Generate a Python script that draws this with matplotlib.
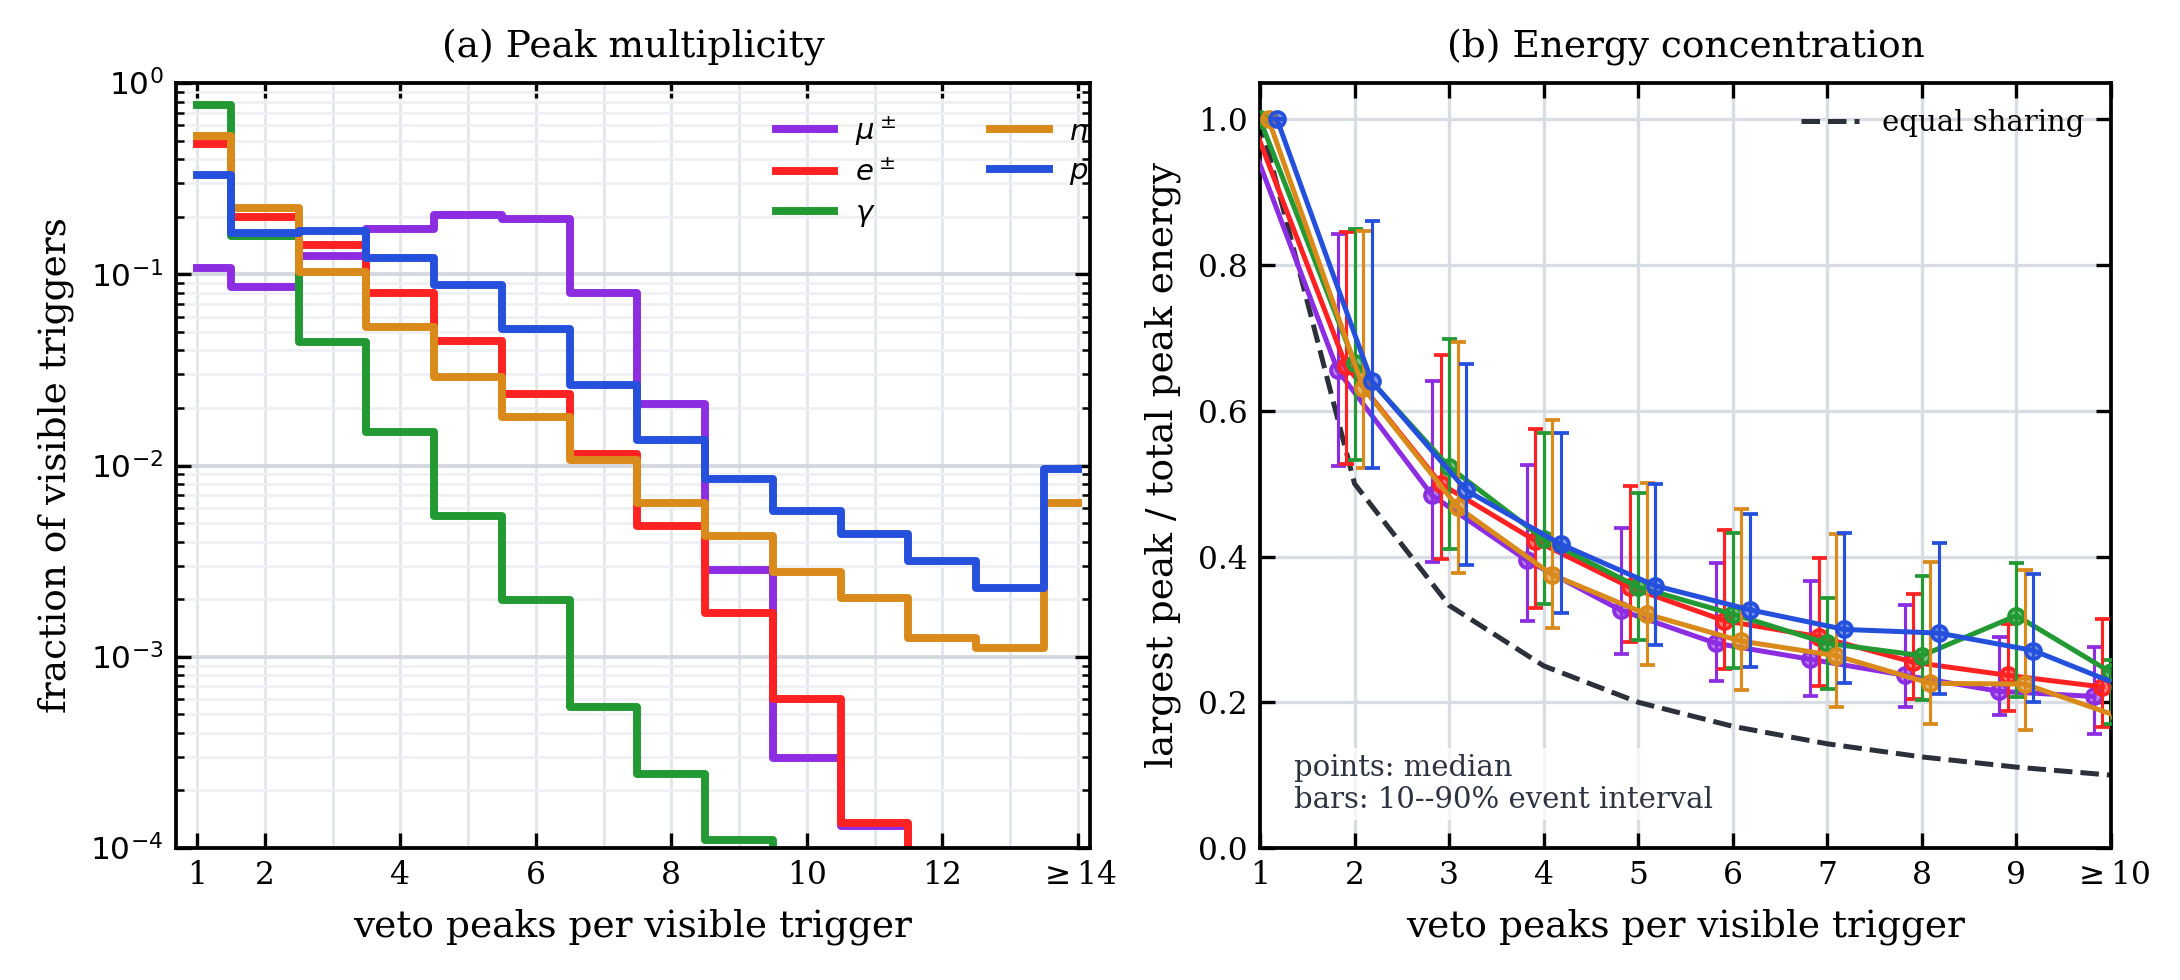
import numpy as np
import matplotlib
matplotlib.use("Agg")
import matplotlib.pyplot as plt
from matplotlib.ticker import FixedLocator, FuncFormatter, LogLocator, NullFormatter
from matplotlib.colors import to_rgba

plt.rcParams['font.family'] = ['DejaVu Serif']
plt.rcParams['mathtext.fontset'] = 'dejavusans'

# ---------------- data ----------------
species = [r'$\mu^\pm$', r'$e^\pm$', r'$\gamma$', r'$n$', r'$p$']
colors = ['#8d2de2', '#ff2222', '#229933', '#d98a1a', '#2550dc']

mult_bins = [1, 2, 3, 4, 5, 6, 7, 8, 9, 10, 11, 12, 13, 14]
mult_ticks = [1, 2, 4, 6, 8, 10, 12, 14]
mult_ticklabels = ['1', '2', '4', '6', '8', '10', '12', r'$\geq$14']

frac_mu = [0.108, 0.0855, 0.124, 0.172, 0.204, 0.194, 0.080, 0.0209, 0.00284, 0.000294, 0.000130, 0, 0, 0]
frac_e = [0.48, 0.200, 0.142, 0.080, 0.0448, 0.0236, 0.0115, 0.00483, 0.0017, 0.0006, 0.000135, 0, 0, 0]
frac_gamma = [0.77, 0.158, 0.044, 0.0150, 0.00544, 0.00198, 0.000548, 0.000245, 0.000110, 0, 0, 0, 0, 0]
frac_n = [0.53, 0.221, 0.103, 0.053, 0.0289, 0.0180, 0.0107, 0.00634, 0.00428, 0.00279, 0.00202, 0.00126, 0.00111, 0.0064]
frac_p = [0.33, 0.165, 0.168, 0.121, 0.088, 0.0515, 0.0264, 0.0136, 0.00847, 0.00578, 0.00437, 0.00318, 0.00228, 0.00955]

n_peaks = [1, 2, 3, 4, 5, 6, 7, 8, 9, 10]
n_ticklabels = ['1', '2', '3', '4', '5', '6', '7', '8', '9', r'$\geq$10']
equal_sharing = [1.0, 0.5, 0.333, 0.25, 0.2, 0.167, 0.143, 0.125, 0.111, 0.1]

med_mu = [1.0, 0.656, 0.484, 0.395, 0.326, 0.281, 0.259, 0.237, 0.215, 0.208]
lo_mu = [1.0, 0.525, 0.392, 0.312, 0.266, 0.229, 0.209, 0.193, 0.182, 0.156]
hi_mu = [1.0, 0.843, 0.641, 0.526, 0.439, 0.391, 0.366, 0.334, 0.290, 0.276]

med_e = [1.0, 0.662, 0.500, 0.422, 0.358, 0.312, 0.290, 0.255, 0.237, 0.221]
lo_e = [1.0, 0.527, 0.397, 0.329, 0.283, 0.246, 0.223, 0.205, 0.188, 0.166]
hi_e = [1.0, 0.845, 0.676, 0.575, 0.497, 0.437, 0.398, 0.348, 0.307, 0.314]

med_gamma = [1.0, 0.666, 0.523, 0.424, 0.358, 0.321, 0.281, 0.264, 0.319, 0.241]
lo_gamma = [1.0, 0.532, 0.410, 0.335, 0.286, 0.247, 0.218, 0.203, 0.207, 0.170]
hi_gamma = [1.0, 0.849, 0.698, 0.570, 0.487, 0.432, 0.343, 0.373, 0.391, 0.258]

med_n = [1.0, 0.632, 0.468, 0.375, 0.321, 0.284, 0.264, 0.226, 0.225, 0.180]
lo_n = [1.0, 0.522, 0.378, 0.302, 0.251, 0.217, 0.193, 0.170, 0.162, 0.140]
hi_n = [1.0, 0.847, 0.694, 0.587, 0.501, 0.465, 0.431, 0.393, 0.382, 0.250]

med_p = [1.0, 0.641, 0.491, 0.417, 0.360, 0.327, 0.300, 0.295, 0.271, 0.219]
lo_p = [1.0, 0.521, 0.389, 0.322, 0.278, 0.248, 0.227, 0.212, 0.200, 0.160]
hi_p = [1.0, 0.861, 0.664, 0.570, 0.499, 0.458, 0.433, 0.419, 0.376, 0.290]

offsets = [-0.18, -0.09, 0.0, 0.09, 0.18]

fracs = [frac_mu, frac_e, frac_gamma, frac_n, frac_p]
meds = [med_mu, med_e, med_gamma, med_n, med_p]
los = [lo_mu, lo_e, lo_gamma, lo_n, lo_p]
his = [hi_mu, hi_e, hi_gamma, hi_n, hi_p]

# ---------------- figure ----------------
W, H = 2180, 980
fig = plt.figure(figsize=(W / 300, H / 300), dpi=300)
ax1 = fig.add_axes([176 / W, 1 - 848 / H, (1090 - 176) / W, (848 - 83) / H])
ax2 = fig.add_axes([1260 / W, 1 - 848 / H, (2111 - 1260) / W, (848 - 83) / H])

for ax in (ax1, ax2):
    for s in ax.spines.values():
        s.set_linewidth(0.9)
        s.set_color('black')
    ax.tick_params(which='both', direction='in', top=True, right=True, labelsize=7.5, colors='black')
    ax.tick_params(which='major', length=3.6, width=0.8, pad=3)
    ax.tick_params(which='minor', length=2.0, width=0.6)

# ---- panel (a) ----
for y, c, lab in zip(fracs, colors, species):
    ax1.step(mult_bins, y, where='mid', color=c, lw=1.9, label=lab)
ax1.set_yscale('log', nonpositive='clip')
ax1.set_ylim(1e-4, 1)
ax1.set_xlim(0.69, 14.18)
ax1.xaxis.set_major_locator(FixedLocator(mult_ticks))
ax1.set_xticklabels(mult_ticklabels)
ax1.xaxis.set_minor_locator(FixedLocator([3, 5, 7, 9, 11, 13]))
ax1.tick_params(axis='x', which='minor', length=0)
ax1.yaxis.set_major_locator(LogLocator(base=10, numticks=10))
ax1.yaxis.set_minor_locator(LogLocator(base=10, subs=np.arange(2, 10), numticks=20))
ax1.yaxis.set_minor_formatter(NullFormatter())
ax1.yaxis.set_major_formatter(FuncFormatter(lambda v, p: r'$10^{%d}$' % int(round(np.log10(v)))))
ax1.set_axisbelow(True)
ax1.grid(True, axis='x', which='both', color='#e3e7ec', lw=0.7)
ax1.grid(True, axis='y', which='major', color='#d3d8de', lw=0.9)
ax1.grid(True, axis='y', which='minor', color='#eceff3', lw=0.6)
ax1.set_title('(a) Peak multiplicity', fontsize=9, pad=6)
ax1.set_xlabel('veto peaks per visible trigger', fontsize=9)
ax1.set_ylabel('fraction of visible triggers', fontsize=9)
ax1.legend(loc='upper right', bbox_to_anchor=(1.011, 0.975), ncol=2, frameon=False, fontsize=7,
           handlelength=2.0, handletextpad=0.7, columnspacing=3.25, labelspacing=0.4,
           borderaxespad=0.0)

# ---- panel (b) ----
ax2.plot(n_peaks, equal_sharing, ls='--', color='#2b303b', lw=1.2, label='equal sharing', zorder=2)
xs = np.array(n_peaks, dtype=float)
for i, (m, lo, hi, c) in enumerate(zip(meds, los, his, colors)):
    m = np.array(m); lo = np.array(lo); hi = np.array(hi)
    ax2.errorbar(xs + offsets[i], m, yerr=[m - lo, hi - m], color=c, lw=1.2,
                 marker='o', ms=3.6, mfc=to_rgba(c, 0.6), mec=c, mew=0.9,
                 capsize=1.8, elinewidth=0.75, capthick=0.75, zorder=3 + i)
ax2.set_xlim(1, 10)
ax2.set_ylim(0, 1.05)
ax2.set_xticks(n_peaks)
ax2.set_xticklabels(n_ticklabels)
ax2.set_yticks([0.0, 0.2, 0.4, 0.6, 0.8, 1.0])
ax2.set_yticklabels(['0.0', '0.2', '0.4', '0.6', '0.8', '1.0'])
ax2.set_axisbelow(True)
ax2.grid(True, which='major', color='#d8dde3', lw=0.8)
ax2.set_title('(b) Energy concentration', fontsize=9, pad=6)
ax2.set_xlabel('veto peaks per visible trigger', fontsize=9)
ax2.set_ylabel('largest peak / total peak energy', fontsize=9)
ax2.legend(loc='upper right', frameon=False, fontsize=7, handlelength=2.0, borderaxespad=0.5)
ax2.text(0.04, 0.045, 'points: median\nbars: 10--90% event interval', transform=ax2.transAxes,
         fontsize=7, color='#2d3340', ha='left', va='bottom', zorder=10, linespacing=1.15,
         bbox=dict(facecolor='white', edgecolor='none', alpha=0.75, pad=1.5))

fig.savefig('out.png', dpi=300)
